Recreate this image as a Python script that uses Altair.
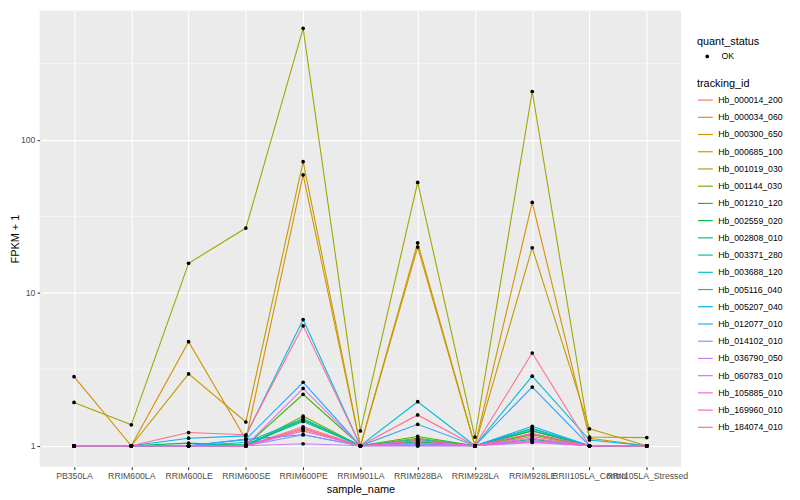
import altair as alt
import pandas as pd

samples = ["PB350LA", "RRIM600LA", "RRIM600LE", "RRIM600SE", "RRIM600PE",
           "RRIM901LA", "RRIM928BA", "RRIM928LA", "RRIM928LE",
           "RRII105LA_Control", "RRII105LA_Stressed"]

tracking_ids = ["Hb_000014_200", "Hb_000034_060", "Hb_000300_650", "Hb_000685_100",
                "Hb_001019_030", "Hb_001144_030", "Hb_001210_120", "Hb_002559_020",
                "Hb_002808_010", "Hb_003371_280", "Hb_003688_120", "Hb_005116_040",
                "Hb_005207_040", "Hb_012077_010", "Hb_014102_010", "Hb_036790_050",
                "Hb_060783_010", "Hb_105885_010", "Hb_169960_010", "Hb_184074_010"]

colors = ["#F8766D", "#EA8331", "#D89000", "#C09B00", "#A3A500", "#7CAE00", "#39B600",
          "#00BB4E", "#00BF7D", "#00C1A3", "#00BFC4", "#00BAE0", "#00B0F6", "#35A2FF",
          "#9590FF", "#C77CFF", "#E76BF3", "#FA62DB", "#FF62BC", "#FF6C91"]

# FPKM + 1 per sample (same order as samples)
hb_000014_200 = [1, 1, 1, 1, 1.33, 1, 1.08, 1, 1.25, 1, 1]
hb_000034_060 = [1, 1, 1, 1, 1.28, 1, 1.05, 1, 1.15, 1, 1]
hb_000300_650 = [2.83, 1, 4.79, 1.1, 59, 1, 19.9, 1, 39, 1.12, 1]
hb_000685_100 = [1, 1, 2.95, 1.43, 72, 1, 21.2, 1, 19.7, 1.29, 1]
hb_001019_030 = [1.92, 1.37, 15.6, 26.5, 536, 1.25, 52.7, 1.14, 207, 1.14, 1.13]
hb_001144_030 = [1, 1, 1, 1, 1.56, 1, 1.12, 1, 1.2, 1, 1]
hb_001210_120 = [1, 1, 1, 1, 2.17, 1, 1.15, 1, 1.18, 1, 1]
hb_002559_020 = [1, 1, 1.04, 1, 1.5, 1, 1.06, 1, 1.25, 1, 1]
hb_002808_010 = [1, 1, 1, 1.02, 1.44, 1, 1.03, 1, 1.1, 1, 1]
hb_003371_280 = [1, 1, 1, 1, 1.47, 1, 1.1, 1, 1.3, 1, 1]
hb_003688_120 = [1, 1, 1, 1.05, 1.5, 1, 1, 1, 1.28, 1, 1]
hb_005116_040 = [1, 1, 1.12, 1.16, 6.68, 1, 1.94, 1, 2.85, 1.09, 1]
hb_005207_040 = [1, 1, 1, 1.1, 1.18, 1, 1.02, 1, 1.34, 1, 1]
hb_012077_010 = [1, 1, 1, 1.1, 2.6, 1, 1.38, 1, 2.42, 1, 1]
hb_014102_010 = [1, 1, 1, 1, 1.18, 1, 1.02, 1, 1.05, 1, 1]
hb_036790_050 = [1, 1, 1, 1, 1.03, 1, 1, 1, 1.08, 1, 1]
hb_060783_010 = [1, 1, 1, 1, 2.37, 1, 1.04, 1, 1.12, 1, 1]
hb_105885_010 = [1, 1, 1, 1, 1.25, 1, 1, 1, 1.06, 1, 1]
hb_169960_010 = [1, 1, 1, 1, 1.3, 1, 1.08, 1, 1.2, 1, 1]
hb_184074_010 = [1, 1, 1.22, 1.18, 6.08, 1, 1.59, 1, 4.04, 1, 1]

series = [hb_000014_200, hb_000034_060, hb_000300_650, hb_000685_100, hb_001019_030,
          hb_001144_030, hb_001210_120, hb_002559_020, hb_002808_010, hb_003371_280,
          hb_003688_120, hb_005116_040, hb_005207_040, hb_012077_010, hb_014102_010,
          hb_036790_050, hb_060783_010, hb_105885_010, hb_169960_010, hb_184074_010]

y_major = [1, 10, 100]
y_minor = [3.162, 31.62, 316.2]

rows = []
for tid, vals in zip(tracking_ids, series):
    for s, v in zip(samples, vals):
        rows.append({"tracking_id": tid, "sample_name": s, "fpkm": v, "quant_status": "OK"})
df = pd.DataFrame(rows)
minor_df = pd.DataFrame({"fpkm": y_minor})

FONT = "Liberation Sans"

x_enc = alt.X("sample_name:N", sort=samples,
              scale=alt.Scale(type="point", padding=0.6),
              axis=alt.Axis(title="sample_name", labelAngle=0, labelOverlap=False,
                            labelBound=False, labelPadding=2, titlePadding=3))
y_scale = alt.Scale(type="log", domain=[0.728, 701], nice=False)
y_axis = alt.Axis(title="FPKM + 1", values=y_major, format="~g",
                  labelPadding=2, titlePadding=0)
y_enc = alt.Y("fpkm:Q", scale=y_scale, axis=y_axis)

minor = alt.Chart(minor_df).mark_rule(color="white", strokeWidth=0.55).encode(
    y=y_enc
)

lines = alt.Chart(df).mark_line(strokeWidth=1.1).encode(
    x=x_enc, y=y_enc,
    color=alt.Color("tracking_id:N", sort=tracking_ids,
                    scale=alt.Scale(domain=tracking_ids, range=colors),
                    legend=alt.Legend(title="tracking_id", orient="none",
                                      legendX=664, legendY=68,
                                      symbolType="stroke", symbolSize=225,
                                      symbolStrokeWidth=1.2, rowPadding=3.4,
                                      titlePadding=3, labelOffset=4.5)),
    detail="tracking_id:N",
)

points = alt.Chart(df).mark_point(filled=True, size=14, color="black", opacity=1).encode(
    x=x_enc, y=y_enc,
    shape=alt.Shape("quant_status:N", scale=alt.Scale(domain=["OK"], range=["circle"]),
                    legend=alt.Legend(title="quant_status", orient="none",
                                      legendX=664, legendY=26, symbolSize=14,
                                      symbolOffset=6,
                                      symbolFillColor="black", symbolStrokeColor="black",
                                      titlePadding=5, labelOffset=10)),
)

chart = alt.layer(minor, lines, points).properties(
    width=648, height=461,
    autosize=alt.AutoSizeParams(type="none"),
    padding={"left": 32, "top": 0, "right": 112, "bottom": 30},
).configure_view(
    fill="#EBEBEB", stroke=None
).configure_axis(
    grid=True, gridColor="white", gridWidth=1.07, domain=False,
    tickColor="#333333", tickSize=2.75, tickWidth=1.07,
    labelColor="#4D4D4D", labelFontSize=8.8, labelFont=FONT,
    titleFontSize=11, titleColor="black", titleFontWeight="normal", titleFont=FONT,
).configure_legend(
    titleFontSize=11, titleFontWeight="normal", titleFont=FONT, titleColor="black",
    labelFontSize=8.8, labelFont=FONT, labelColor="black", padding=0,
)

chart.save("out.html", embed_options={"renderer": "svg", "actions": False})
